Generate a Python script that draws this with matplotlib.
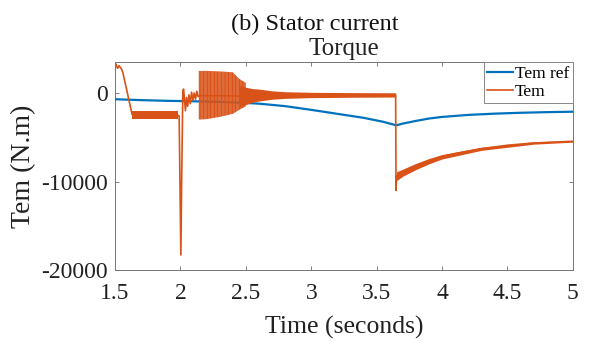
import matplotlib
matplotlib.use("Agg")
import matplotlib.pyplot as plt

plt.rcParams['font.family'] = ['Liberation Serif', 'DejaVu Serif']
plt.rcParams['hatch.linewidth'] = 0.9

BLUE = '#0072BD'
ORANGE = '#D95319'

# reference torque
t_ref = [1.50, 1.70, 1.90, 2.10, 2.30, 2.50, 2.60, 2.80, 3.00, 3.20, 3.40, 3.55, 3.65,
         3.70, 3.80, 3.90, 4.00, 4.20, 4.40, 4.60, 4.80, 5.00]
tem_ref = [-700, -800, -880, -930, -1000, -1120, -1200, -1480, -1900, -2350, -2800, -3250, -3650,
           -3450, -3150, -2880, -2700, -2470, -2330, -2230, -2160, -2110]

# electromagnetic torque (mean trace)
t_tem = [1.500, 1.505, 1.512, 1.520, 1.530, 1.540, 1.550, 1.560, 1.630, 1.660, 1.700, 1.800,
         1.900, 1.975, 1.990, 2.003, 2.010, 2.018, 2.024, 2.030, 2.038, 2.046, 2.055, 2.065,
         2.075, 2.085, 2.095, 2.105, 2.115, 2.125, 2.135, 2.145, 2.300, 2.450, 2.550, 2.700,
         3.000, 3.300, 3.645, 3.648, 3.652, 3.700, 3.800, 3.900, 4.000, 4.100, 4.300, 4.500,
         4.700, 5.000]
tem = [2800, 3300, 3000, 2800, 3100, 2900, 2700, 2300, -2400, -2500, -2400, -2450,
       -2400, -2450, -2600, -18300, -9000, 200, 450, -600, -2000, -500, -1500, -200,
       -1200, 100, -800, 0, -700, 200, -400, -300, -300, -350, -300, -250,
       -200, -200, -250, -11000, -9400, -9000, -8300, -7700, -7200, -6850, -6300, -5900,
       -5650, -5450]

# ripple envelopes
t_plateau = [1.63, 1.98]
plateau_lo = [-2900, -2900]
plateau_hi = [-2050, -2050]

t_osc = [2.14, 2.20, 2.30, 2.40, 2.45, 2.50]
osc_lo = [-3000, -2950, -2700, -2350, -1900, -1500]
osc_hi = [2500, 2500, 2450, 2350, 1600, 1150]

t_decay = [2.45, 2.50, 2.55, 2.60, 2.70, 2.80, 3.00, 3.30, 3.645]
decay_lo = [-1600, -1300, -1050, -900, -700, -600, -520, -480, -450]
decay_hi = [900, 650, 500, 450, 250, 150, 80, 50, 30]

t_rec = [3.652, 3.700, 3.800, 3.900, 4.000, 4.300, 4.700, 5.000]
rec_lo = [-9900, -9400, -8650, -8000, -7450, -6480, -5780, -5550]
rec_hi = [-8900, -8600, -7950, -7400, -6950, -6120, -5520, -5350]

fig = plt.figure(figsize=(5.9, 3.42), dpi=100)
ax = fig.add_axes([0.195, 0.2105, 0.776, 0.608])

ax.plot(t_ref, tem_ref, color=BLUE, lw=1.6, label='Tem ref', zorder=3)
ax.fill_between(t_plateau, plateau_lo, plateau_hi, color=ORANGE, lw=0, zorder=4)
ax.fill_between(t_osc, osc_lo, osc_hi, facecolor='none', edgecolor=ORANGE,
                hatch='|' * 12, lw=0, zorder=4)
ax.fill_between(t_decay, decay_lo, decay_hi, color=ORANGE, lw=0, zorder=4)
ax.fill_between(t_rec, rec_lo, rec_hi, color=ORANGE, lw=0, zorder=4)
ax.plot(t_tem, tem, color=ORANGE, lw=1.2, label='Tem', zorder=5)

ax.set_xlim(1.5, 5)
ax.set_ylim(-20000, 3500)
ax.set_xticks([1.5, 2, 2.5, 3, 3.5, 4, 4.5, 5])
ax.set_xticklabels(['1.5', '2', '2.5', '3', '3.5', '4', '4.5', '5'])
ax.set_yticks([-20000, -10000, 0])
ax.set_yticklabels(['-20000', '-10000', '0'])
ax.tick_params(direction='in', length=3, width=0.6, top=True, right=True,
               labelsize=17, colors='#666666', labelcolor='#222222')
ax.tick_params(axis='x', pad=9)
ax.tick_params(axis='y', pad=5)
for s in ax.spines.values():
    s.set_color('#777777')
    s.set_linewidth(0.7)

ax.set_xlabel('Time (seconds)', fontsize=18.5, color='#222222', labelpad=9)
ax.set_ylabel('Tem (N.m)', fontsize=20, color='#222222', labelpad=4)
ax.set_title('Torque', fontsize=18, color='#222222', pad=5)

leg = ax.legend(loc='upper right', borderaxespad=0, fontsize=12.5, fancybox=False,
                handlelength=1.5, handletextpad=0.1, borderpad=0.2, labelspacing=0.1,
                framealpha=1)
leg.get_frame().set_edgecolor('#888888')
leg.get_frame().set_linewidth(0.7)

fig.text(0.534, 0.912, '(b) Stator current', fontsize=17.5, ha='center', va='baseline',
         color='#111111')

fig.savefig('out.png', dpi=100)
